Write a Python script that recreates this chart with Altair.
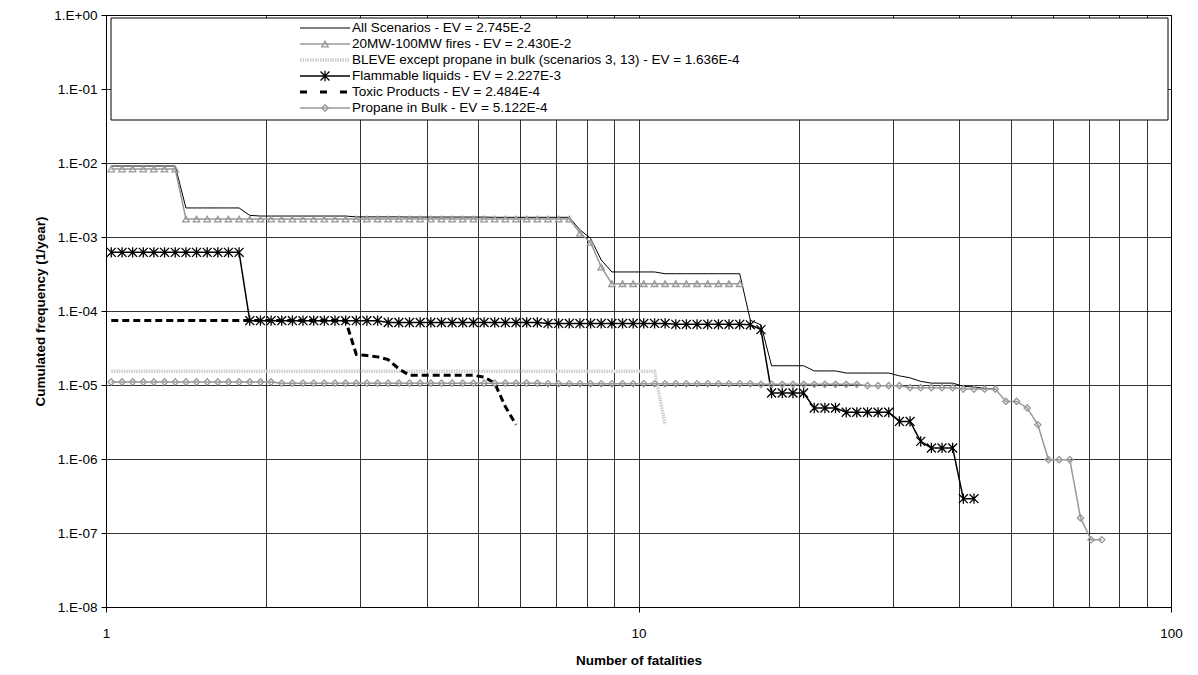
import altair as alt
import pandas as pd

FONT = "Liberation Sans, Arial, sans-serif"

SERIES = [
    "All Scenarios - EV = 2.745E-2",
    "20MW-100MW fires - EV = 2.430E-2",
    "BLEVE except propane in bulk (scenarios 3, 13) - EV = 1.636E-4",
    "Flammable liquids - EV = 2.227E-3",
    "Toxic Products - EV = 2.484E-4",
    "Propane in Bulk - EV = 5.122E-4",
]

FATALITIES = [
    1.023, 1.072, 1.122, 1.175, 1.230, 1.288, 1.349, 1.413, 1.479, 1.549,
    1.622, 1.698, 1.778, 1.862, 1.950, 2.042, 2.138, 2.239, 2.344, 2.455,
    2.570, 2.692, 2.818, 2.951, 3.090, 3.236, 3.388, 3.548, 3.715, 3.890,
    4.074, 4.266, 4.467, 4.677, 4.898, 5.129, 5.370, 5.623, 5.888, 6.166,
    6.457, 6.761, 7.079, 7.413, 7.762, 8.128, 8.511, 8.913, 9.333, 9.772,
    10.23, 10.72, 11.22, 11.75, 12.30, 12.88, 13.49, 14.13, 14.79, 15.49,
    16.22, 16.98, 17.78, 18.62, 19.50, 20.42, 21.38, 22.39, 23.44, 24.55,
    25.70, 26.92, 28.18, 29.51, 30.90, 32.36, 33.88, 35.48, 37.15, 38.90,
    40.74, 42.66, 44.67, 46.77, 48.98, 51.29, 53.70, 56.23, 58.88, 61.66,
    64.57, 67.61, 70.79, 74.13,
]

ALL_SCENARIOS = [
    9.1e-3, 9.1e-3, 9.1e-3, 9.1e-3, 9.1e-3, 9.1e-3, 9.1e-3,
    2.47e-3, 2.47e-3, 2.47e-3, 2.47e-3, 2.47e-3, 2.47e-3,
    1.96e-3,
    1.92e-3, 1.92e-3, 1.92e-3, 1.92e-3, 1.92e-3, 1.92e-3, 1.92e-3, 1.92e-3, 1.92e-3,
    1.87e-3, 1.87e-3, 1.87e-3, 1.87e-3, 1.87e-3,
    1.86e-3, 1.86e-3, 1.86e-3, 1.86e-3, 1.86e-3, 1.86e-3, 1.86e-3, 1.86e-3,
    1.845e-3, 1.845e-3, 1.845e-3, 1.845e-3, 1.845e-3, 1.845e-3, 1.845e-3, 1.845e-3,
    1.25e-3, 9.6e-4, 4.9e-4,
    3.37e-4, 3.37e-4, 3.37e-4, 3.37e-4, 3.37e-4,
    3.19e-4, 3.19e-4, 3.19e-4, 3.19e-4, 3.19e-4, 3.19e-4, 3.19e-4, 3.19e-4,
    7.5e-5, 6.5e-5,
    1.82e-5, 1.82e-5, 1.82e-5, 1.82e-5,
    1.55e-5, 1.55e-5, 1.55e-5,
    1.45e-5, 1.45e-5, 1.45e-5, 1.45e-5, 1.45e-5,
    1.33e-5, 1.25e-5, 1.12e-5,
    1.06e-5, 1.06e-5, 1.06e-5,
    9.6e-6, 9.4e-6, 9.0e-6, 8.8e-6,
]

FIRES = [
    8.3e-3, 8.3e-3, 8.3e-3, 8.3e-3, 8.3e-3, 8.3e-3, 8.3e-3,
    1.75e-3, 1.75e-3, 1.75e-3, 1.75e-3, 1.75e-3, 1.75e-3, 1.75e-3, 1.75e-3, 1.75e-3, 1.75e-3,
    1.75e-3, 1.75e-3, 1.75e-3, 1.75e-3, 1.75e-3, 1.75e-3, 1.75e-3, 1.75e-3, 1.75e-3, 1.75e-3,
    1.75e-3, 1.75e-3, 1.75e-3, 1.75e-3, 1.75e-3, 1.75e-3, 1.75e-3, 1.75e-3, 1.75e-3, 1.75e-3,
    1.75e-3, 1.75e-3, 1.75e-3, 1.75e-3, 1.75e-3, 1.75e-3, 1.75e-3,
    1.13e-3, 8.45e-4, 3.93e-4,
    2.34e-4, 2.34e-4, 2.34e-4, 2.34e-4, 2.34e-4, 2.34e-4, 2.34e-4, 2.34e-4, 2.34e-4, 2.34e-4,
    2.34e-4, 2.34e-4, 2.34e-4,
]

BLEVE = [
    1.53e-5, 1.53e-5, 1.53e-5, 1.53e-5, 1.53e-5, 1.53e-5, 1.53e-5, 1.53e-5, 1.53e-5, 1.53e-5,
    1.53e-5, 1.53e-5, 1.53e-5, 1.53e-5, 1.53e-5, 1.53e-5, 1.53e-5, 1.53e-5, 1.53e-5, 1.53e-5,
    1.53e-5, 1.53e-5, 1.53e-5, 1.53e-5, 1.53e-5, 1.53e-5, 1.53e-5, 1.53e-5, 1.53e-5, 1.53e-5,
    1.53e-5, 1.53e-5, 1.53e-5, 1.53e-5, 1.53e-5, 1.53e-5, 1.53e-5, 1.53e-5, 1.53e-5, 1.53e-5,
    1.53e-5, 1.53e-5, 1.53e-5, 1.53e-5, 1.53e-5, 1.53e-5, 1.53e-5, 1.53e-5, 1.53e-5, 1.53e-5,
    1.53e-5, 1.53e-5, 2.9e-6,
]

FLAMMABLE = [
    6.2e-4, 6.2e-4, 6.2e-4, 6.2e-4, 6.2e-4, 6.2e-4, 6.2e-4, 6.2e-4, 6.2e-4, 6.2e-4,
    6.2e-4, 6.2e-4, 6.2e-4,
    7.4e-5, 7.4e-5, 7.4e-5, 7.4e-5, 7.4e-5, 7.4e-5, 7.4e-5, 7.4e-5, 7.4e-5, 7.4e-5,
    7.4e-5, 7.4e-5, 7.4e-5,
    7.0e-5, 7.0e-5, 7.0e-5, 7.0e-5, 7.0e-5, 7.0e-5, 7.0e-5, 7.0e-5, 7.0e-5, 7.0e-5,
    7.0e-5, 7.0e-5, 7.0e-5, 7.0e-5, 7.0e-5,
    6.8e-5, 6.8e-5, 6.8e-5, 6.8e-5, 6.8e-5, 6.8e-5, 6.8e-5, 6.8e-5, 6.8e-5, 6.8e-5,
    6.8e-5, 6.8e-5,
    6.6e-5, 6.6e-5, 6.6e-5, 6.6e-5, 6.6e-5, 6.6e-5, 6.6e-5,
    6.5e-5, 5.6e-5,
    7.8e-6, 7.8e-6, 7.8e-6, 7.8e-6,
    4.89e-6, 4.89e-6, 4.89e-6,
    4.28e-6, 4.28e-6, 4.28e-6, 4.28e-6, 4.28e-6,
    3.22e-6, 3.22e-6,
    1.73e-6,
    1.41e-6, 1.41e-6, 1.41e-6,
    2.91e-7, 2.91e-7,
]

TOXIC = [
    7.45e-5, 7.45e-5, 7.45e-5, 7.45e-5, 7.45e-5, 7.45e-5, 7.45e-5, 7.45e-5, 7.45e-5, 7.45e-5,
    7.45e-5, 7.45e-5, 7.45e-5, 7.45e-5, 7.45e-5, 7.45e-5, 7.45e-5, 7.45e-5, 7.45e-5, 7.45e-5,
    7.45e-5, 7.45e-5, 7.45e-5,
    2.6e-5, 2.5e-5, 2.4e-5, 2.2e-5, 1.65e-5,
    1.35e-5, 1.35e-5, 1.35e-5, 1.35e-5, 1.35e-5, 1.35e-5, 1.35e-5,
    1.28e-5, 1.06e-5, 5.1e-6, 2.9e-6,
]

PROPANE = [
    1.1e-5, 1.1e-5, 1.1e-5, 1.1e-5, 1.1e-5, 1.1e-5, 1.1e-5, 1.1e-5,
    1.1e-5, 1.1e-5, 1.1e-5, 1.1e-5, 1.1e-5, 1.1e-5, 1.1e-5, 1.1e-5,
    1.06e-5, 1.06e-5, 1.06e-5, 1.06e-5, 1.06e-5, 1.06e-5, 1.06e-5, 1.06e-5, 1.06e-5, 1.06e-5,
    1.06e-5, 1.06e-5, 1.06e-5, 1.06e-5, 1.06e-5, 1.06e-5, 1.06e-5, 1.06e-5, 1.06e-5, 1.06e-5,
    1.06e-5, 1.06e-5, 1.06e-5, 1.06e-5, 1.06e-5,
    1.04e-5, 1.04e-5, 1.04e-5, 1.04e-5, 1.04e-5, 1.04e-5, 1.04e-5, 1.04e-5, 1.04e-5, 1.04e-5,
    1.04e-5, 1.04e-5, 1.04e-5, 1.04e-5, 1.04e-5, 1.04e-5, 1.04e-5, 1.04e-5, 1.04e-5, 1.04e-5,
    1.02e-5, 1.02e-5, 1.02e-5, 1.02e-5, 1.02e-5, 1.02e-5, 1.02e-5, 1.02e-5, 1.02e-5, 1.02e-5,
    9.8e-6, 9.8e-6, 9.8e-6, 9.8e-6,
    9.2e-6, 9.2e-6, 9.2e-6, 9.2e-6, 9.2e-6,
    8.8e-6, 8.8e-6, 8.8e-6, 8.8e-6,
    6.0e-6, 6.0e-6, 4.9e-6, 2.9e-6,
    9.8e-7, 9.8e-7, 9.8e-7,
    1.6e-7, 8.1e-8, 8.1e-8,
]

X_TICKS = [1, 2, 3, 4, 5, 6, 7, 8, 9, 10, 20, 30, 40, 50, 60, 70, 80, 90, 100]
Y_TICKS = [1e-8, 1e-7, 1e-6, 1e-5, 1e-4, 1e-3, 1e-2, 1e-1, 1]


def frame(name, values):
    return pd.DataFrame({
        "series": name,
        "fatalities": FATALITIES[: len(values)],
        "frequency": values,
    })


X_AXIS = alt.Axis(
    values=X_TICKS,
    format="d",
    labelExpr="datum.value == 1 || datum.value == 10 || datum.value == 100 ? datum.label : ''",
    labelFlush=False,
    labelOverlap=False,
    labelPadding=14,
    tickSize=5,
    tickOpacity={"condition": {"test": "datum.value == 1 || datum.value == 10 || datum.value == 100", "value": 1}, "value": 0},
    title="Number of fatalities",
    titleY=53,
    titleBaseline="middle",
)
Y_AXIS = alt.Axis(
    values=Y_TICKS,
    labelExpr="datum.value >= 1 ? '1.E+00' : '1.E-0' + round(-log(datum.value) / LN10)",
    labelOverlap=False,
    labelFlush=False,
    labelPadding=4,
    tickSize=5,
    title="Cumulated frequency (1/year)",
    titleX=-66,
    titleY=296,
    titleAngle=270,
    titleAlign="center",
    titleBaseline="middle",
)

X = alt.X("fatalities:Q", scale=alt.Scale(type="log", domain=[1, 100]), axis=X_AXIS)
Y = alt.Y("frequency:Q", scale=alt.Scale(type="log", domain=[1e-8, 1]), axis=Y_AXIS)

GRAY = "#989898"
STAR = "M-1,-1L1,1M-1,1L1,-1M0,-1.15L0,1.15"

df_all = frame(SERIES[0], ALL_SCENARIOS)
df_fires = frame(SERIES[1], FIRES)
df_bleve = frame(SERIES[2], BLEVE)
df_flam = frame(SERIES[3], FLAMMABLE)
df_tox = frame(SERIES[4], TOXIC)
df_prop = frame(SERIES[5], PROPANE)

layers = [
    alt.Chart(df_all).mark_line(color="#000000", strokeWidth=1).encode(x=X, y=Y),
    alt.Chart(df_fires).mark_line(color=GRAY, strokeWidth=1.5).encode(x=X, y=Y),
    alt.Chart(df_fires).mark_point(shape="triangle-up", filled=False, size=42, color=GRAY,
                                   strokeWidth=1.3, opacity=1).encode(x=X, y=Y),
    alt.Chart(df_bleve).mark_line(color="#cdcdcd", strokeWidth=3.5, strokeDash=[1.5, 1]).encode(x=X, y=Y),
    alt.Chart(df_flam).mark_line(color="#000000", strokeWidth=1.5).encode(x=X, y=Y),
    alt.Chart(df_flam).mark_point(shape=STAR, filled=False, size=80, color="#000000",
                                  strokeWidth=1.3, opacity=1).encode(x=X, y=Y),
    alt.Chart(df_tox).mark_line(color="#000000", strokeWidth=3, strokeDash=[7, 4]).encode(x=X, y=Y),
    alt.Chart(df_prop).mark_line(color=GRAY, strokeWidth=1.5).encode(x=X, y=Y),
    alt.Chart(df_prop).mark_point(shape="diamond", filled=False, size=40, color=GRAY,
                                  strokeWidth=1.3, opacity=1).encode(x=X, y=Y),
]

# legend box
box_df = pd.DataFrame({"label": [""]})
layers.append(
    alt.Chart(box_df).mark_rect(fill="white", stroke="#000000", strokeWidth=1).encode(
        x=alt.value(5), x2=alt.value(1062), y=alt.value(3), y2=alt.value(105)
    )
)

LEG_STYLES = [
    dict(color="#000000", width=1, dash=None, shape=None),
    dict(color=GRAY, width=1.5, dash=None, shape="triangle-up"),
    dict(color="#cdcdcd", width=3.5, dash=[1.5, 1], shape=None),
    dict(color="#000000", width=1.5, dash=None, shape=STAR),
    dict(color="#000000", width=3, dash=[7, 13], shape=None),
    dict(color=GRAY, width=1.5, dash=None, shape="diamond"),
]
for i, (name, st) in enumerate(zip(SERIES, LEG_STYLES)):
    ry = 13 + 16 * i
    ldf = pd.DataFrame({"label": [name]})
    rule_kw = dict(color=st["color"], strokeWidth=st["width"])
    if st["dash"]:
        rule_kw["strokeDash"] = st["dash"]
    layers.append(
        alt.Chart(ldf).mark_rule(**rule_kw).encode(x=alt.value(194), x2=alt.value(244), y=alt.value(ry))
    )
    if st["shape"]:
        size = 80 if st["shape"] == STAR else 42
        layers.append(
            alt.Chart(ldf).mark_point(shape=st["shape"], filled=False, size=size, color=st["color"],
                                      strokeWidth=1.3, opacity=1).encode(x=alt.value(219), y=alt.value(ry))
        )
    layers.append(
        alt.Chart(ldf).mark_text(align="left", baseline="middle", font=FONT, fontSize=13.5,
                                 color="#000000").encode(x=alt.value(246), y=alt.value(ry), text="label:N")
    )

chart = (
    alt.layer(*layers)
    .properties(
        width=1065,
        height=592,
        autosize=alt.AutoSizeParams(type="none"),
        padding={"left": 98, "top": 7, "right": 15, "bottom": 60},
        background="white",
    )
    .configure_view(stroke="#000000", strokeWidth=1)
    .configure_axis(
        labelFont=FONT,
        labelFontSize=13.5,
        labelColor="#000000",
        titleFont=FONT,
        titleFontSize=13.5,
        titleFontWeight="bold",
        titleColor="#000000",
        domainColor="#000000",
        tickColor="#000000",
        grid=True,
        gridColor="#000000",
        gridOpacity=0.8,
        gridWidth=1,
    )
)

chart.save("out.html", embed_options={"renderer": "svg", "actions": False})
